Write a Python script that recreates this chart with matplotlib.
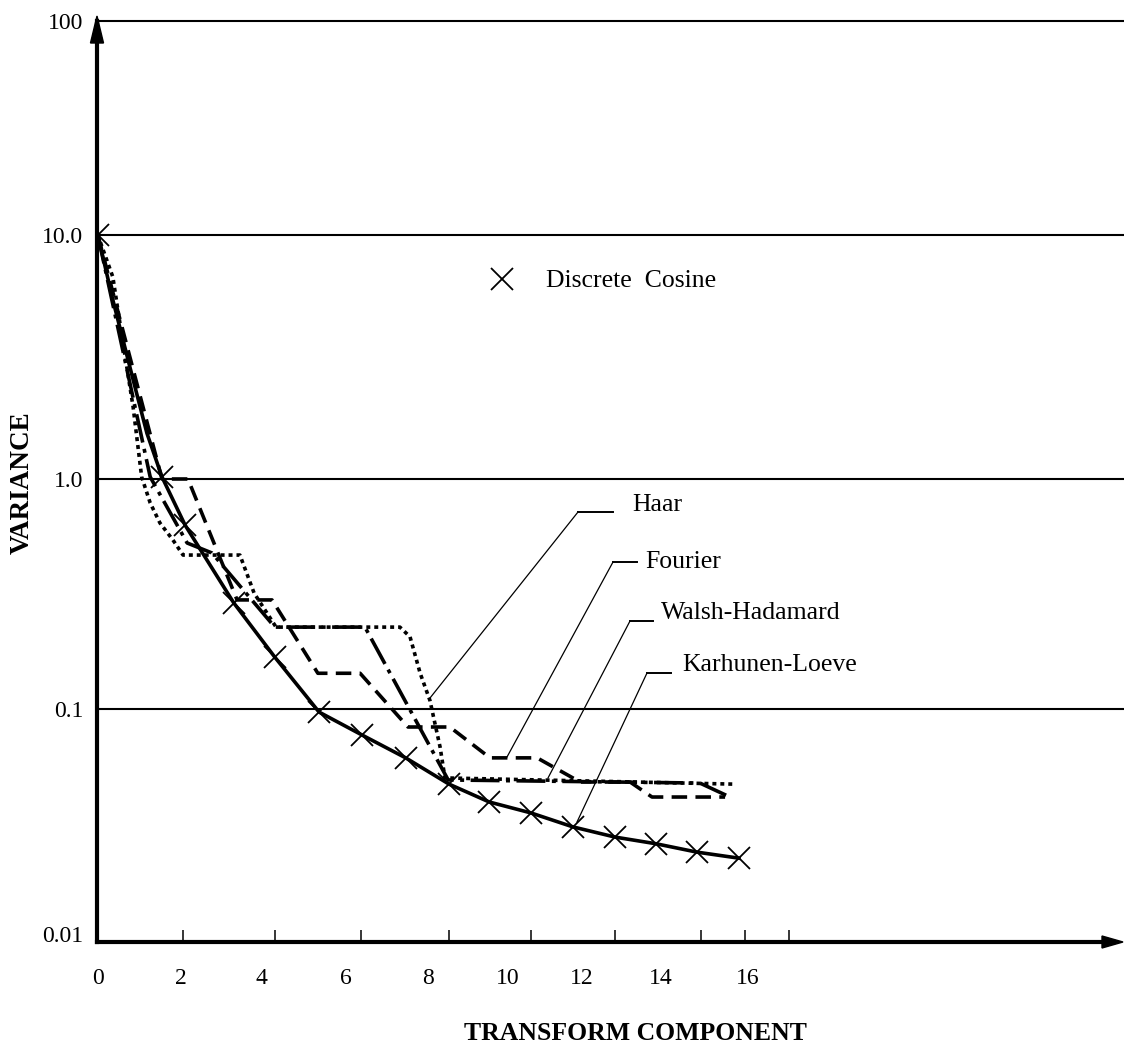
import numpy as np
import matplotlib
matplotlib.use("Agg")
import matplotlib.pyplot as plt
import matplotlib.transforms as mtransforms
from matplotlib.lines import Line2D
from matplotlib.patches import Polygon
from matplotlib.ticker import NullLocator

# ---------------- data ----------------
# Discrete Cosine (cross markers)
dct_x = [0.02, 1.60, 2.17, 3.37, 4.38, 5.47, 6.53, 7.61, 8.67, 9.66, 10.69,
         11.72, 12.76, 13.77, 14.78, 15.81]
dct_var = [10.0, 1.02, 0.63, 0.289, 0.168, 0.097, 0.0773, 0.0616, 0.0476,
           0.0399, 0.0358, 0.0312, 0.0282, 0.0264, 0.0243, 0.0229]

# Karhunen-Loeve (solid)
kl_x = [0.02, 0.39, 0.89, 1.23, 1.60, 2.17, 3.37, 4.38, 5.47, 6.53, 7.61,
        8.67, 9.66, 10.69, 11.72, 12.76, 13.77, 14.78, 15.81]
kl_var = [10.0, 5.42, 2.55, 1.54, 1.02, 0.63, 0.289, 0.168, 0.097, 0.0773,
          0.0616, 0.0476, 0.0399, 0.0358, 0.0312, 0.0282, 0.0264, 0.0243, 0.0229]

# Haar (dotted)
haar_x = [0.02, 0.39, 0.64, 0.89, 1.10, 1.31, 1.55, 1.87, 2.12, 3.52, 3.87,
          4.41, 7.46, 7.71, 7.96, 8.20, 8.45, 8.57, 15.67]
haar_var = [10.0, 6.73, 3.61, 1.97, 1.02, 0.787, 0.644, 0.543, 0.467, 0.467,
            0.319, 0.227, 0.227, 0.206, 0.143, 0.109, 0.0687, 0.0506, 0.0476]

# Fourier (dashed)
four_x = [0.02, 1.60, 2.24, 3.45, 4.31, 5.44, 6.48, 7.66, 8.69, 9.68, 10.84,
          11.90, 13.13, 13.67, 15.47]
four_var = [10.0, 1.0, 1.0, 0.298, 0.298, 0.143, 0.143, 0.0837, 0.0837,
            0.0617, 0.0617, 0.0486, 0.0486, 0.0419, 0.0419]

# Walsh-Hadamard (dash-dot)
wh_x = [0.02, 1.31, 2.22, 2.83, 4.38, 6.60, 8.65, 14.85, 15.59]
wh_var = [10.0, 1.02, 0.527, 0.477, 0.227, 0.227, 0.0496, 0.0481, 0.0419]

# axis ticks / labels
x_label_pos = [0.02, 2.07, 4.04, 6.13, 8.15, 10.12, 11.95, 13.89, 16.03]
x_labels = ["0", "2", "4", "6", "8", "10", "12", "14", "16"]
x_tick_marks = [2.13, 4.38, 6.50, 8.67, 10.68, 12.76, 14.88, 15.96, 17.04]
y_ticks = [0.01, 0.1, 1.0, 10.0, 100.0]
y_labels = ["0.01", "0.1", "1.0", "10.0", "100"]
grid_levels = [0.1, 1.0, 10.0, 100.0]

# ---------------- figure ----------------
plt.rcParams['font.family'] = ['Liberation Serif', 'DejaVu Serif']
W, H = 1124, 1045
fig = plt.figure(figsize=(W / 100, H / 100), dpi=100)


def F(px, py):
    return (px / W, 1 - py / H)


ax = fig.add_axes([97 / W, 103 / H, 1027 / W, 921 / H])

# hand-drawn decade spacing of the original log axis
LOGS = [-4, -2, -1, 0, 1, 2, 4]
PXS = [-466, 0, 233, 463, 707, 921, 1349]


def fwd(v):
    v = np.asarray(v, dtype=float)
    return np.interp(np.log10(np.maximum(v, 1e-300)), LOGS, PXS)


def inv(p):
    return 10 ** np.interp(np.asarray(p, dtype=float), PXS, LOGS)


ax.set_yscale('function', functions=(fwd, inv))
ax.set_ylim(0.01, 100)
ax.set_xlim(0, 1027 / 40.6)

for s in ['top', 'right']:
    ax.spines[s].set_visible(False)
ax.spines['left'].set_linewidth(3.0)
ax.spines['bottom'].set_linewidth(3.0)
ax.spines['bottom'].set_bounds(0, (1105 - 97) / 40.6)

# grid lines
for g in grid_levels:
    ax.axhline(g, color='black', lw=1.5, zorder=1, clip_on=False)

lw = 2.6
ax.plot(haar_x, haar_var, color='black', lw=lw, ls=(0, (1.1, 1.1)),
        dash_capstyle='butt', zorder=3)
ax.plot(four_x, four_var, color='black', lw=lw, ls=(0, (4.3, 2.3)),
        dash_capstyle='butt', zorder=3)
ax.plot(wh_x, wh_var, color='black', lw=lw, ls=(0, (8, 1.8, 1.1, 1.8)),
        dash_capstyle='butt', zorder=3)
ax.plot(kl_x, kl_var, color='black', lw=lw, ls='-', zorder=3)
dct_line, = ax.plot(dct_x, dct_var, ls='none', marker='x', ms=16, mew=1.3,
                    color='black', zorder=4)

# ticks
ax.set_xticks(x_label_pos, x_labels, fontsize=17)
ax.tick_params(axis='x', which='major', length=0, pad=19)
ax.set_xticks(x_tick_marks, minor=True)
ax.tick_params(axis='x', which='minor', direction='in', length=8.6,
               width=1.1, color='black')
ax.set_yticks(y_ticks, y_labels, fontsize=17)
ax.yaxis.set_minor_locator(NullLocator())
ax.tick_params(axis='y', which='major', length=0, pad=10)
# the bottom label sits a little above the axis line in the original
up = mtransforms.ScaledTranslation(0, 8 / 100, fig.dpi_scale_trans)
for lab in ax.get_yticklabels():
    if lab.get_text() == "0.01":
        lab.set_transform(lab.get_transform() + up)

# arrow heads
fig.add_artist(Polygon([F(97, 16), F(90.5, 43), F(103.5, 43)], closed=True,
                       transform=fig.transFigure, color='black'))
fig.add_artist(Polygon([F(1123, 942), F(1102, 936), F(1102, 948)], closed=True,
                       transform=fig.transFigure, color='black'))

# legend for the cross series
ax.legend([dct_line], ['Discrete  Cosine'], loc='center left',
          bbox_to_anchor=F(469, 281), bbox_transform=fig.transFigure,
          frameon=False, fontsize=18.5, handlelength=2.6, handletextpad=0.4,
          borderpad=0, borderaxespad=0, numpoints=1)

# leader annotations
leaders = [
    ("Haar", [(430, 698), (578, 512)], [(578, 512), (613, 512)], (632, 505)),
    ("Fourier", [(507, 757), (613, 562)], [(613, 562), (637, 562)], (645, 562)),
    ("Walsh-Hadamard", [(548, 778), (630, 621)], [(630, 621), (653, 621)], (661, 613)),
    ("Karhunen-Loeve", [(577, 822), (647, 673)], [(647, 673), (671, 673)], (682, 665)),
]
for name, diag, horiz, tpos in leaders:
    xs, ys = zip(*[F(*p) for p in diag])
    fig.add_artist(Line2D(xs, ys, transform=fig.transFigure, color='black', lw=0.9))
    xs, ys = zip(*[F(*p) for p in horiz])
    fig.add_artist(Line2D(xs, ys, transform=fig.transFigure, color='black', lw=1.4))
    fig.text(*F(*tpos), name, fontsize=18.5, ha='left', va='center')

# axis titles
fig.text(*F(635, 1034), "TRANSFORM COMPONENT", fontsize=18.5, fontweight='bold',
         ha='center', va='center')
fig.text(*F(22, 483), "VARIANCE", fontsize=19.5, fontweight='bold',
         ha='center', va='center', rotation=90)

fig.savefig("out.png", dpi=100)
